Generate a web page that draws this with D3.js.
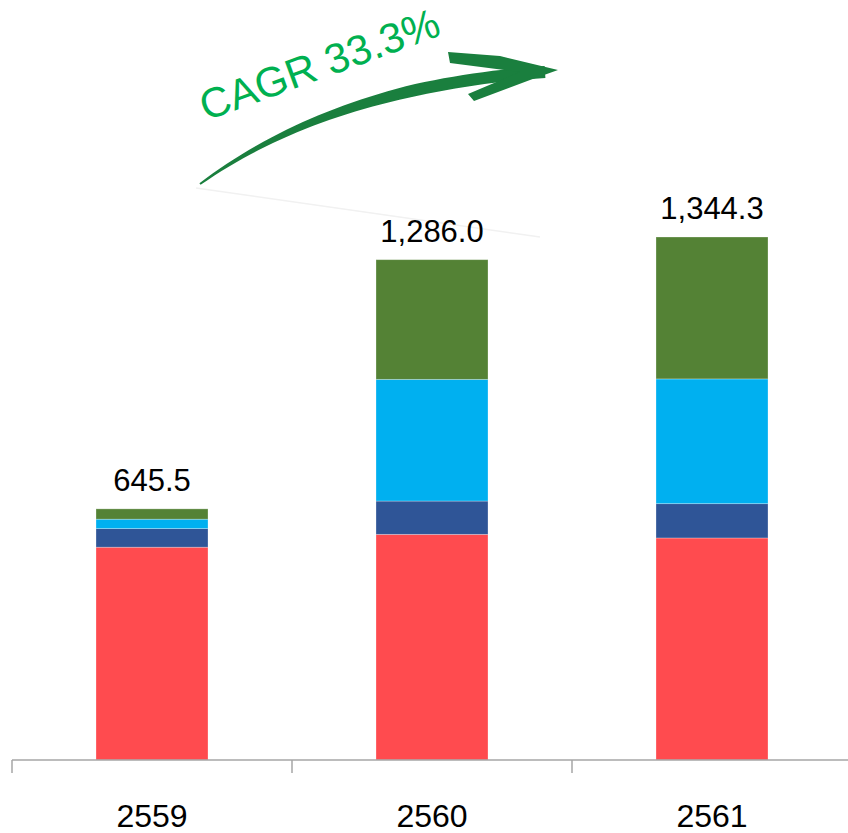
<!DOCTYPE html>
<html>
<head>
<meta charset="utf-8">
<script src="https://cdn.jsdelivr.net/npm/d3@7"></script>
<style>
  body { margin: 0; background: #ffffff; }
  svg { display: block; font-family: "Liberation Sans", Arial, sans-serif; }
</style>
</head>
<body>
<script>
let width = 848
let height = 833

// data
let years = ["2559", "2560", "2561"]
let seriesKeys = ["s1", "s2", "s3", "s4"]
let s1 = [547.0, 580.0, 570.7]
let s2 = [47.8, 85.6, 88.2]
let s3 = [24.2, 312.8, 320.6]
let s4 = [26.5, 307.6, 364.8]
let totals = ["645.5", "1,286.0", "1,344.3"]
let cagrLabel = "CAGR 33.3%"

let colors = ["#FF4B4F", "#2F5597", "#00B0F0", "#548235"]

let rows = years.map((y, i) => ({ year: y, s1: s1[i], s2: s2[i], s3: s3[i], s4: s4[i] }))

let svg = d3.select("body")
  .append("svg")
  .attr("width", width)
  .attr("height", height)

let x = d3.scaleBand()
  .domain(years)
  .range([12, 852])
  .paddingInner(0.6)
  .paddingOuter(0.3)

let y = d3.scaleLinear()
  .domain([0, 1344.3])
  .range([760, 237])

// faint shadow under the arrow (behind everything)
svg.append("line")
  .attr("x1", 196).attr("y1", 188)
  .attr("x2", 540).attr("y2", 237)
  .attr("stroke", "#f1f1f1")
  .attr("stroke-width", 1.5)

let stacked = d3.stack().keys(seriesKeys)(rows)

svg.append("g")
  .selectAll("g")
  .data(stacked)
  .join("g")
  .attr("fill", (d, i) => colors[i])
  .selectAll("rect")
  .data(d => d)
  .join("rect")
  .attr("x", d => x(d.data.year))
  .attr("y", d => y(d[1]))
  .attr("width", x.bandwidth())
  .attr("height", d => y(d[0]) - y(d[1]))
  .attr("stroke", "#ffffff")
  .attr("stroke-opacity", 0.35)
  .attr("stroke-width", 0.8)

// totals
svg.append("g")
  .selectAll("text")
  .data(rows)
  .join("text")
  .attr("x", d => x(d.year) + x.bandwidth() / 2)
  .attr("y", (d, i) => y(d.s1 + d.s2 + d.s3 + d.s4) - 18)
  .attr("text-anchor", "middle")
  .attr("font-size", 31)
  .attr("fill", "#000")
  .text((d, i) => totals[i])

// x axis
let axis = svg.append("g")
  .attr("transform", "translate(0,760)")

axis.append("line")
  .attr("x1", 12).attr("x2", 848)
  .attr("stroke", "#a6a6a6").attr("stroke-width", 1.5)

axis.selectAll(".tick")
  .data(years)
  .join("line")
  .attr("x1", d => x(d) - x.step() * 0.3)
  .attr("x2", d => x(d) - x.step() * 0.3)
  .attr("y1", 0).attr("y2", 13)
  .attr("stroke", "#a6a6a6").attr("stroke-width", 1.5)

axis.selectAll("text")
  .data(years)
  .join("text")
  .attr("x", d => x(d) + x.bandwidth() / 2)
  .attr("y", 67)
  .attr("text-anchor", "middle")
  .attr("font-size", 32)
  .attr("fill", "#000")
  .text(d => d)

// CAGR arrow, tapered brush stroke
let p0 = [200, 184], pc = [335, 86], p1 = [545, 72]
let upper = [], lower = []
for (let i = 0; i <= 40; i++) {
  let t = i / 40
  let px = (1-t)*(1-t)*p0[0] + 2*(1-t)*t*pc[0] + t*t*p1[0]
  let py = (1-t)*(1-t)*p0[1] + 2*(1-t)*t*pc[1] + t*t*p1[1]
  let dx = 2*(1-t)*(pc[0]-p0[0]) + 2*t*(p1[0]-pc[0])
  let dy = 2*(1-t)*(pc[1]-p0[1]) + 2*t*(p1[1]-pc[1])
  let len = Math.sqrt(dx*dx + dy*dy)
  let nx = -dy / len, ny = dx / len
  let w = 1 + 5 * Math.min(1, t * 1.5)
  upper.push([px + nx*w, py + ny*w])
  lower.push([px - nx*w, py - ny*w])
}
let arrowPts = upper.concat(lower.reverse())
svg.append("path")
  .attr("d", d3.line()(arrowPts) + "Z")
  .attr("fill", "#1A7F3E")

svg.append("path")
  .attr("d", d3.line().curve(d3.curveLinearClosed)([
    [558, 70], [500, 56], [448, 52], [450, 63], [520, 72],
    [468, 94], [474, 101], [530, 80]
  ]))
  .attr("fill", "#1A7F3E")

svg.append("text")
  .attr("transform", "translate(206,121) rotate(-20)")
  .attr("font-size", 42)
  .attr("fill", "#00B050")
  .text(cagrLabel)
</script>
</body>
</html>
